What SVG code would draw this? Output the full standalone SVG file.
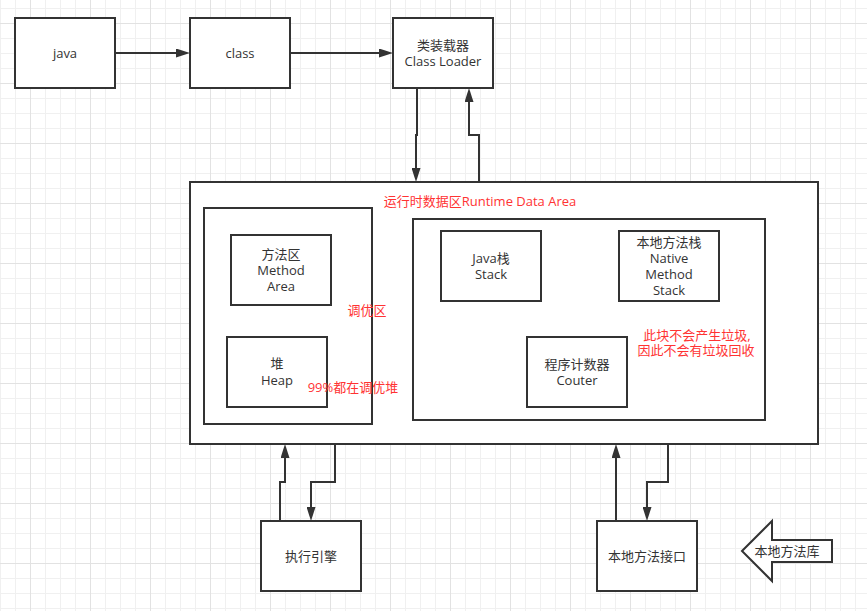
<svg xmlns="http://www.w3.org/2000/svg" width="867" height="611" viewBox="0 0 867 611">
<style>
.box{fill:#ffffff;stroke:#333333;stroke-width:2}
.t{font-family:"Open Sans","Noto Sans CJK SC",sans-serif;font-size:13px;fill:#333333;text-anchor:middle}
.r{font-family:"Open Sans","Noto Sans CJK SC",sans-serif;font-size:13px;fill:#FF3333;text-anchor:middle}
.c{fill:none;stroke:#333333;stroke-width:2;marker-end:url(#ah)}
</style>
<defs>
<pattern id="grid" patternUnits="userSpaceOnUse" x="30" y="23" width="60" height="60">
<path d="M15.5,0V60M30.5,0V60M45.5,0V60M0,15.5H60M0,30.5H60M0,45.5H60" stroke="#f0f0f0" stroke-width="1" fill="none"/>
<path d="M0.5,0V60M0,0.5H60" stroke="#e2e2e2" stroke-width="1" fill="none"/>
</pattern>
<marker id="ah" viewBox="0 0 14 9" refX="0" refY="4.5" markerWidth="14" markerHeight="9" markerUnits="userSpaceOnUse" orient="auto">
<path d="M0,0L14,4.5L0,9z" fill="#333333"/>
</marker>
</defs>
<rect width="867" height="611" fill="#ffffff"/>
<rect width="867" height="611" fill="url(#grid)"/>

<g id="java"><rect class="box" x="15" y="18" width="100" height="70"/><text class="t" x="65" y="58">java</text></g>
<g id="class"><rect class="box" x="190" y="18" width="100" height="70"/><text class="t" x="240" y="58">class</text></g>
<g id="classloader"><rect class="box" x="393" y="18" width="100" height="70"/><text class="t" x="443" y="50">类装载器</text><text class="t" x="443" y="66">Class Loader</text></g>

<g id="runtime"><rect class="box" x="190" y="182" width="628" height="262"/><text class="r" x="480" y="206">运行时数据区Runtime Data Area</text></g>
<g id="tuning"><rect class="box" x="204" y="208" width="168" height="216"/></g>
<g id="method"><rect class="box" x="231" y="235" width="100" height="70"/><text class="t" x="281" y="259">方法区</text><text class="t" x="281" y="275">Method</text><text class="t" x="281" y="291">Area</text></g>
<g id="heap"><rect class="box" x="227" y="337" width="100" height="70"/><text class="t" x="277" y="368">堆</text><text class="t" x="277" y="385">Heap</text></g>
<g id="nogc"><rect class="box" x="413" y="219" width="352" height="201"/></g>
<g id="javastack"><rect class="box" x="441" y="231" width="100" height="70"/><text class="t" x="491" y="263">Java栈</text><text class="t" x="491" y="279">Stack</text></g>
<g id="nativestack"><rect class="box" x="619" y="231" width="100" height="70"/><text class="t" x="669" y="247">本地方法栈</text><text class="t" x="669" y="263">Native</text><text class="t" x="669" y="279">Method</text><text class="t" x="669" y="295">Stack</text></g>
<g id="counter"><rect class="box" x="527" y="337" width="100" height="70"/><text class="t" x="577" y="369">程序计数器</text><text class="t" x="577" y="385">Couter</text></g>

<g id="tuning-labels"><text class="r" x="367" y="315">调优区</text><text class="r" x="353" y="392">99%都在调优堆</text></g>
<g id="nogc-label"><text class="r" x="697" y="340">此块不会产生垃圾,</text><text class="r" x="696" y="355">因此不会有垃圾回收</text></g>

<g id="engine"><rect class="box" x="261" y="521" width="100" height="70"/><text class="t" x="311" y="561">执行引擎</text></g>
<g id="nativeif"><rect class="box" x="597" y="521" width="100" height="70"/><text class="t" x="647" y="561">本地方法接口</text></g>
<g id="nativelib"><path class="box" d="M742,551L772,521V540H832V562H772V581Z"/><text class="t" x="787" y="556">本地方法库</text></g>

<g id="connectors">
<path class="c" d="M115,53H176"/>
<path class="c" d="M290,53H379"/>
<path class="c" d="M417,88V135H416V168"/>
<path class="c" d="M479,182V135H469V102"/>
<path class="c" d="M335,444V482H311V507"/>
<path class="c" d="M280,521V482H285V458"/>
<path class="c" d="M616,521V458"/>
<path class="c" d="M668,444V482H647V507"/>
</g>
</svg>
